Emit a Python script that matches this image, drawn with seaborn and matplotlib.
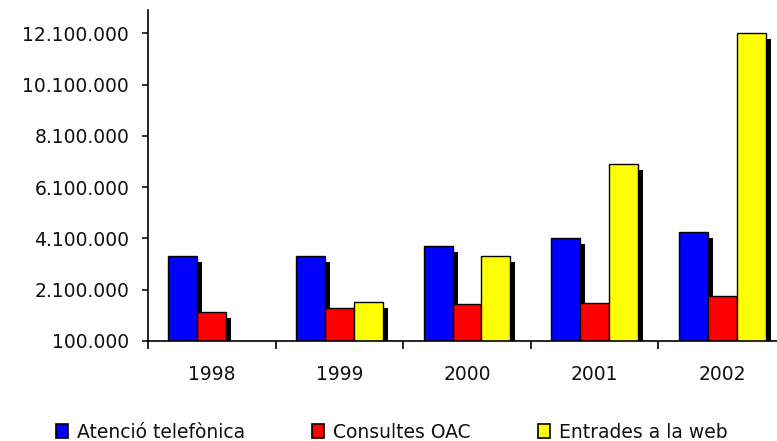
import numpy as np
import pandas as pd
import matplotlib
matplotlib.use("Agg")
import matplotlib.pyplot as plt
import matplotlib.patheffects as pe
from matplotlib.ticker import FuncFormatter, FixedLocator
import seaborn as sns

years = ["1998", "1999", "2000", "2001", "2002"]
atencio = [3410000, 3410000, 3800000, 4120000, 4360000]
consultes = [1230000, 1390000, 1540000, 1590000, 1850000]
entrades = [0, 1620000, 3410000, 7000000, 12130000]
series = ["Atenció telefònica", "Consultes OAC", "Entrades a la web"]
colors = ["#0000ff", "#ff0000", "#ffff00"]

df = pd.DataFrame({
    "any": years * 3,
    "serie": [series[0]] * 5 + [series[1]] * 5 + [series[2]] * 5,
    "valor": atencio + consultes + entrades,
})

sns.set_style("white")
plt.rcParams["font.family"] = ["DejaVu Sans"]
fs = 13.5

fig = plt.figure(figsize=(7.77, 4.41), dpi=100)
ax = fig.add_axes([148 / 777, 1 - 341 / 441, 629 / 777, 331 / 441])

sns.barplot(data=df, x="any", y="valor", hue="serie", palette=colors,
            saturation=1, width=0.68, edgecolor="black", linewidth=1,
            ax=ax, legend=False)

# black drop shadow behind every bar
for p in ax.patches:
    p.set_path_effects([pe.SimplePatchShadow(offset=(3.6, -4.3), shadow_rgbFace="black", alpha=1),
                        pe.Normal()])

ax.set_ylim(100000, 13010000)
ax.set_xlim(-0.5, 4.5 - 9 / 127.5)
ax.set_yticks(np.arange(100000, 12100001, 2000000))
ax.yaxis.set_major_formatter(FuncFormatter(lambda v, _: f"{int(v):,}".replace(",", ".")))
ax.xaxis.set_minor_locator(FixedLocator([-0.5, 0.5, 1.5, 2.5, 3.5]))
ax.tick_params(axis="x", which="major", length=0, pad=17, labelsize=fs, colors="#111111")
ax.tick_params(axis="x", which="minor", length=6, width=1.2, direction="out", color="black", bottom=True)
ax.tick_params(axis="y", length=4.5, width=1.2, direction="out", left=True, labelsize=fs,
               colors="#111111", pad=9)
ax.set_xlabel("")
ax.set_ylabel("")
for s in ["top", "right"]:
    ax.spines[s].set_visible(False)
for s in ["left", "bottom"]:
    ax.spines[s].set_color("black")
    ax.spines[s].set_linewidth(1.2)

handles = [plt.Rectangle((0, 0), 1, 1, facecolor=c, edgecolor="black", linewidth=1.2) for c in colors]
leg = fig.legend(handles, series, loc="center", bbox_to_anchor=(0.504, 1 - 432 / 441), ncol=3,
                 frameon=False, fontsize=fs, handlelength=0.65, handleheight=0.7,
                 handletextpad=0.45, columnspacing=3.6, borderpad=0)
for t in leg.get_texts():
    t.set_color("#111111")

fig.savefig("out.png", dpi=100)
